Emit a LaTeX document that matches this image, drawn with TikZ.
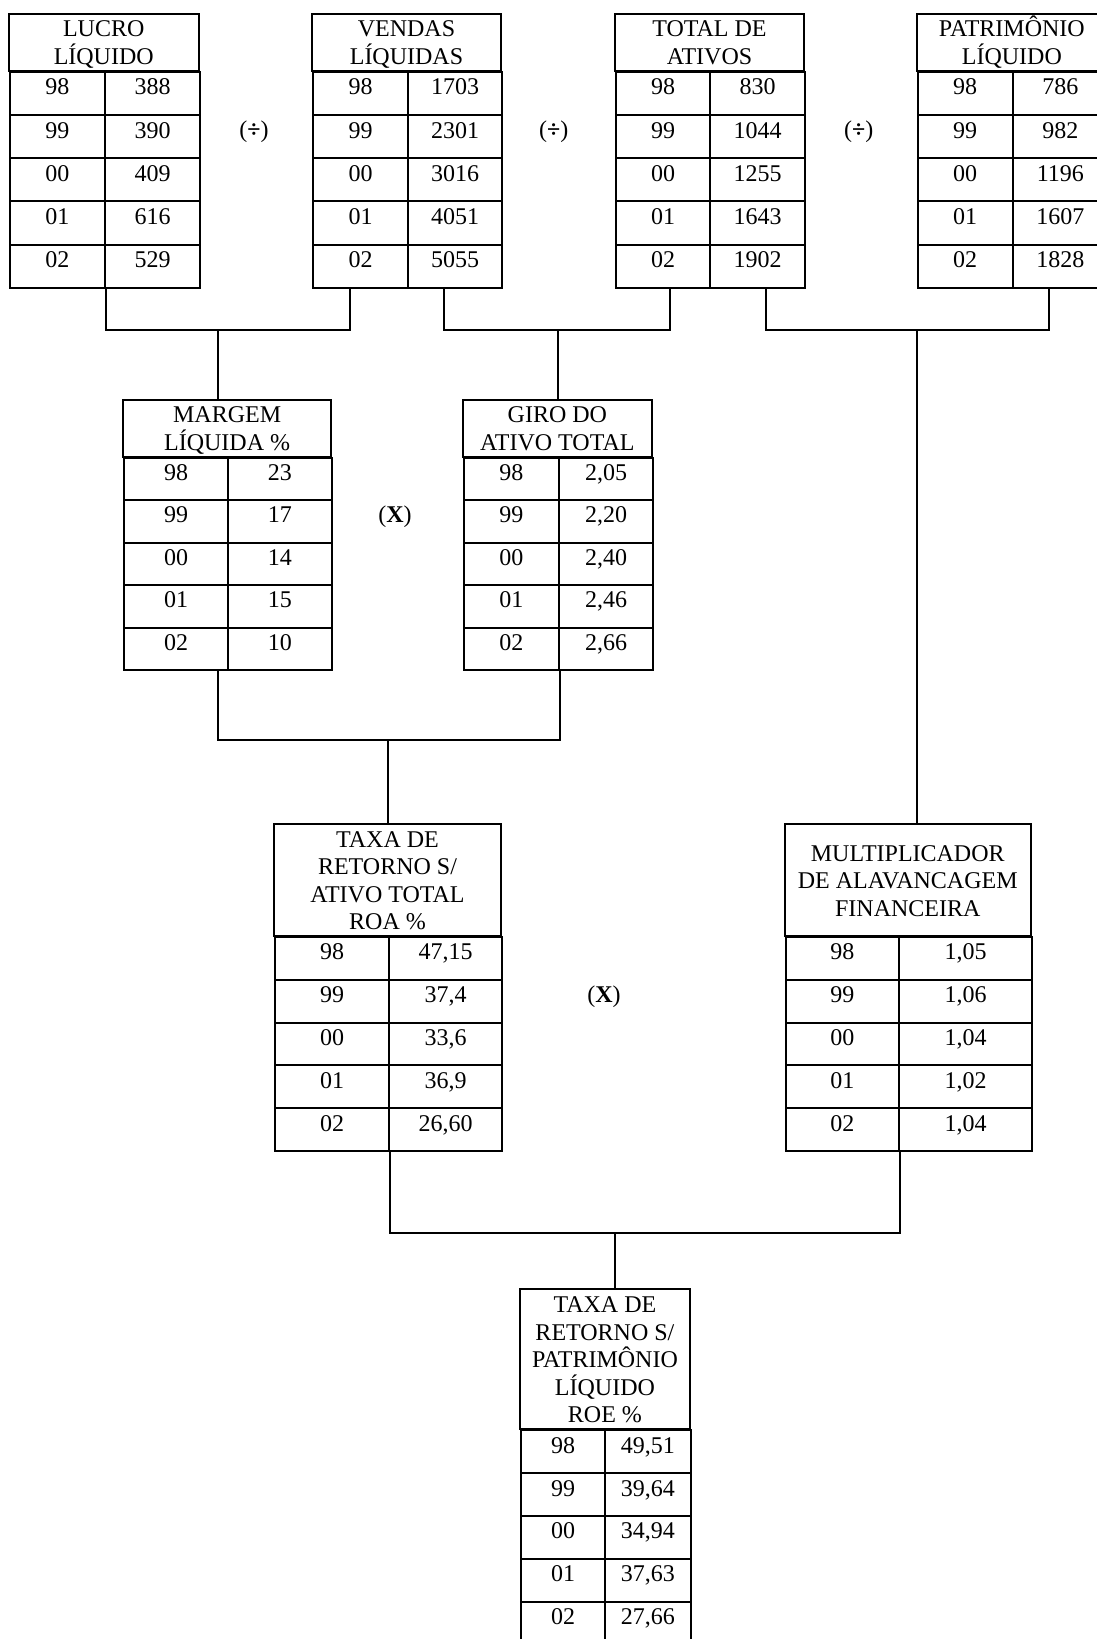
\documentclass[tikz,border=0pt]{standalone}
\usepackage{fontspec}
\setmainfont{Liberation Serif}
\newcommand{\tabFont}{\fontsize{24}{27.5}\selectfont}
\begin{document}
\begin{tikzpicture}
[x=1pt,y=-1pt,%
  tableHead/.style={draw,line width=2pt,align=center,inner sep=0pt,font=\tabFont},%
  tableCell/.style={draw,line width=2pt,inner sep=0pt,text height=14pt,text depth=11pt,%
    anchor=north west,font=\tabFont},%
  linkLine/.style={line width=2pt},%
  opSign/.style={anchor=base,font=\tabFont}]
\useasboundingbox (0,0) rectangle (1096,1639);
%% tables: name/left/divider/right/top/header height/row height/header/rows
\foreach \tab/\xl/\xm/\xr/\yt/\hh/\rh/\head/\rows in {
  lucro/8.5/104/199/13.5/57.2/43.2/{LUCRO\\LÍQUIDO}/{98/388,99/390,00/409,01/616,02/529},
  vendas/312/407/501/13.5/57.2/43.2/{VENDAS\\LÍQUIDAS}/{98/1703,99/2301,00/3016,01/4051,02/5055},
  ativos/615/709/804/13.5/57.2/43.2/{TOTAL DE\\ATIVOS}/{98/830,99/1044,00/1255,01/1643,02/1902},
  patrim/916.7/1011.7/1107/13.5/57.2/43.2/{PATRIMÔNIO\\LÍQUIDO}/{98/786,99/982,00/1196,01/1607,02/1828},
  margem/123.3/226.7/331/400/56.6/42.5/{MARGEM\\LÍQUIDA \%}/{98/23,99/17,00/14,01/15,02/10},
  giro/462.7/558/652/400/56.6/42.5/{GIRO DO\\ATIVO TOTAL}/{98/{2,05},99/{2,20},00/{2,40},01/{2,46},02/{2,66}},
  roa/274/388/501/824.3/111.7/42.8/{TAXA DE\\RETORNO S/\\ATIVO TOTAL\\ROA \%}/{98/{47,15},99/{37,4},00/{33,6},01/{36,9},02/{26,60}},
  mult/784.5/898/1031/824.3/111.7/42.8/{MULTIPLICADOR\\DE ALAVANCAGEM\\FINANCEIRA}/{98/{1,05},99/{1,06},00/{1,04},01/{1,02},02/{1,04}},
  roe/520.3/604/689.6/1289/140.3/42.8/{TAXA DE\\RETORNO S/\\PATRIMÔNIO\\LÍQUIDO\\ROE \%}/{98/{49,51},99/{39,64},00/{34,94},01/{37,63},02/{27,66}}}
{
  \node (\tab) at ({(\xl+\xr)/2},{\yt+\hh/2}) [tableHead,minimum width={\xr-\xl},minimum height=\hh]
    {\rule{0pt}{23pt}\head\rule[-6.3pt]{0pt}{6.3pt}};
  \foreach \yr/\val [count=\i] in \rows
  {
    \node (\tab-\i-y) at (\xl,{\yt+\hh+(\i-1)*\rh}) [tableCell,minimum width={\xm-\xl},minimum height=\rh] {\yr};
    \node (\tab-\i-v) at (\xm,{\yt+\hh+(\i-1)*\rh}) [tableCell,minimum width={\xr-\xm},minimum height=\rh] {\val};
  }
}
%% operators
\foreach \opname/\x/\y/\sign in {div1/254/137/{(\textbf{÷})}, div2/553.8/137/{(\textbf{÷})},
  div3/858.8/137/{(\textbf{÷})}, times1/395/522/{(\textbf{X})}, times2/604/1002/{(\textbf{X})}}
{
  \node (\opname) at (\x,\y) [opSign] {\sign};
}
%% junctions of the connectors
\coordinate (j-margem) at (217.7,330);
\coordinate (j-giro) at (558,330);
\coordinate (j-mult) at (916.7,330);
\coordinate (j-roa) at (388,740);
\coordinate (j-roe) at (615.4,1233);
%% connectors
\draw[linkLine] (lucro-5-y.south east) |- (j-margem) -| ([xshift=38pt]vendas-5-y.south west);
\draw[linkLine] (j-margem) -- (j-margem |- margem.north);
\draw[linkLine] ([xshift=37pt]vendas-5-v.south west) |- (j-giro) -| ([xshift=55pt]ativos-5-y.south west);
\draw[linkLine] (j-giro) -- (j-giro |- giro.north);
\draw[linkLine] ([xshift=57pt]ativos-5-v.south west) |- (j-mult) -| ([xshift=37pt]patrim-5-v.south west);
\draw[linkLine] (j-mult) -- (j-mult |- mult.north);
\draw[linkLine] (margem-5-y.south -| j-margem) |- (j-roa) -| (giro-5-y.south east);
\draw[linkLine] (j-roa) -- (j-roa |- roa.north);
\draw[linkLine] (roa-5-y.south east) |- (j-roe) -| (mult-5-y.south east);
\draw[linkLine] (j-roe) -- (j-roe |- roe.north);
\end{tikzpicture}
\end{document}
